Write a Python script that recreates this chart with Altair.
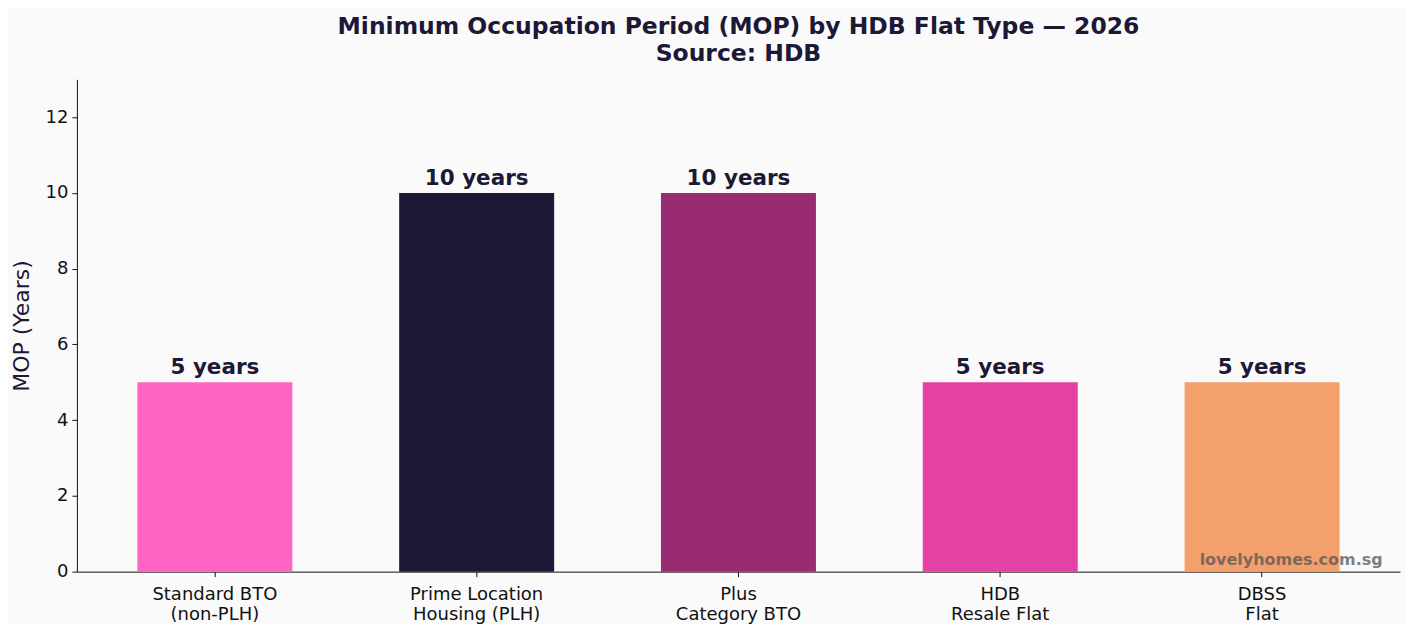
import altair as alt
import pandas as pd

# values
flat_types = [
    "Standard BTO\n(non-PLH)",
    "Prime Location\nHousing (PLH)",
    "Plus\nCategory BTO",
    "HDB\nResale Flat",
    "DBSS\nFlat",
]
mop_years = [5, 10, 10, 5, 5]
bar_labels = ["5 years", "10 years", "10 years", "5 years", "5 years"]
bar_colors = ["#ff66c4", "#1c1836", "#982b71", "#e541a5", "#f4a06c"]

INK = "#1c1836"
FONT = "DejaVu Sans"

df = pd.DataFrame({"type": flat_types, "mop": mop_years, "label": bar_labels})

x_enc = alt.X(
    "type:N",
    sort=flat_types,
    title=None,
    scale=alt.Scale(paddingInner=0.408, paddingOuter=0.231),
    axis=alt.Axis(
        labelAngle=0,
        labelExpr="split(datum.label, '\\n')",
        labelFontSize=18,
        labelColor="#111111",
        labelPadding=9,
        tickSize=5,
        domainColor="#111111",
        tickColor="#111111",
        labelLineHeight=20,
    ),
)
y_enc = alt.Y(
    "mop:Q",
    title="MOP (Years)",
    scale=alt.Scale(domain=[0, 13], nice=False),
    axis=alt.Axis(
        values=[0, 2, 4, 6, 8, 10, 12],
        grid=False,
        labelFontSize=18,
        labelColor="#111111",
        labelPadding=4,
        tickSize=5,
        domainColor="#111111",
        tickColor="#111111",
        titleFontSize=22,
        titleFontWeight="normal",
        titleColor=INK,
        titlePadding=12,
    ),
)

bars = (
    alt.Chart(df)
    .mark_bar()
    .encode(
        x=x_enc,
        y=y_enc,
        color=alt.Color(
            "type:N",
            scale=alt.Scale(domain=flat_types, range=bar_colors),
            legend=None,
        ),
    )
)

labels = (
    alt.Chart(df)
    .mark_text(baseline="bottom", dy=-3, fontSize=21.5, fontWeight="bold", color=INK)
    .encode(x=alt.X("type:N", sort=flat_types), y="mop:Q", text="label:N")
)

watermark = (
    alt.Chart(pd.DataFrame({"t": ["lovelyhomes.com.sg"]}))
    .mark_text(
        fontSize=16, fontWeight="bold", color="#555555", opacity=0.75, align="center"
    )
    .encode(text="t:N", x=alt.value(1216), y=alt.value(481))
)

chart = (
    alt.layer(bars, labels, watermark)
    .properties(
        width=1325,
        height=493,
        background="#fafafa",
        padding={"left": 2, "top": 6, "right": 5, "bottom": 0},
        title=alt.TitleParams(
            ["Minimum Occupation Period (MOP) by HDB Flat Type — 2026", "Source: HDB"],
            fontSize=23.5,
            fontWeight="bold",
            color=INK,
            anchor="middle",
            lineHeight=27,
            offset=14,
        ),
    )
    .configure(font=FONT)
    .configure_view(stroke="transparent")
)

chart.save("out.html", embed_options={"renderer": "svg", "actions": False})
